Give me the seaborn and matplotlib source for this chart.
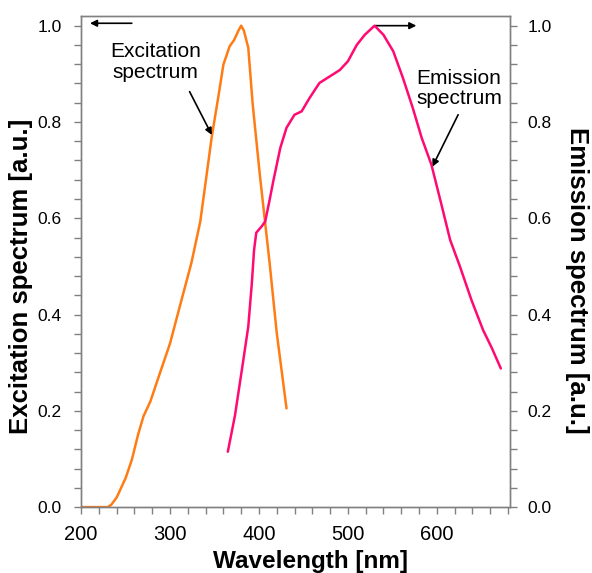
import matplotlib
matplotlib.use("Agg")
import matplotlib.pyplot as plt
import seaborn as sns
import pandas as pd
from matplotlib.ticker import MultipleLocator, FormatStrFormatter

exc_wl = [200, 210, 220, 230, 234, 240, 245, 250, 257, 264, 270, 278, 286, 300, 310, 324, 334,
          347, 355, 360, 367, 372, 377, 380, 383, 388, 393, 401, 407, 412, 420, 431]
exc_val = [0.0, 0.0, 0.0, 0.0, 0.005, 0.02, 0.04, 0.06, 0.098, 0.15, 0.188, 0.22, 0.264, 0.34, 0.41,
           0.507, 0.593, 0.77, 0.86, 0.919, 0.957, 0.97, 0.99, 1.0, 0.99, 0.954, 0.836, 0.69, 0.59,
           0.507, 0.362, 0.205]

em_wl = [365, 373, 382, 388, 392, 394.5, 397, 403, 407, 412, 416, 420, 424, 431, 440, 448, 457,
         468, 480, 491, 500, 510, 519, 530, 540, 551, 562, 573, 583, 594, 605, 615, 626, 639, 652,
         662, 672]
em_val = [0.115, 0.19, 0.30, 0.375, 0.465, 0.534, 0.57, 0.583, 0.593, 0.638, 0.676, 0.711, 0.746,
          0.788, 0.815, 0.822, 0.85, 0.881, 0.895, 0.908, 0.926, 0.96, 0.981, 1.0, 0.981, 0.947,
          0.891, 0.829, 0.767, 0.711, 0.63, 0.555, 0.5, 0.43, 0.368, 0.33, 0.288]

x_ticks = [200, 300, 400, 500, 600]
y_ticks = [0.0, 0.2, 0.4, 0.6, 0.8, 1.0]

sns.set_style("ticks")
plt.rcParams['font.family'] = ['Liberation Sans', 'DejaVu Sans']
plt.rcParams['text.color'] = 'black'
plt.rcParams['axes.labelcolor'] = 'black'

exc_df = pd.DataFrame({"wl": exc_wl, "val": exc_val})
em_df = pd.DataFrame({"wl": em_wl, "val": em_val})

fig = plt.figure(figsize=(5.92, 5.73), dpi=100)
ax = fig.add_axes([0.137, 0.115, 0.724, 0.857])
ax2 = ax.twinx()

sns.lineplot(data=exc_df, x="wl", y="val", ax=ax, color="#ff7c14", lw=1.8, estimator=None, sort=False)
sns.lineplot(data=em_df, x="wl", y="val", ax=ax2, color="#ff0a72", lw=1.8, estimator=None, sort=False)

for a in (ax, ax2):
    a.set_xlim(200, 682)
    a.set_ylim(0, 1.02)
    a.set_yticks(y_ticks)
    a.yaxis.set_minor_locator(MultipleLocator(0.04))
    a.yaxis.set_major_formatter(FormatStrFormatter('%.1f'))
    a.tick_params(which='both', direction='out', color='#808080', length=5, width=1,
                  labelcolor='black')
    a.tick_params(axis='y', labelsize=12.5)
    for s in a.spines.values():
        s.set_color('#808080')
        s.set_linewidth(1)
        s.set_visible(True)

ax.set_xticks(x_ticks)
ax.xaxis.set_minor_locator(MultipleLocator(20))
ax.tick_params(axis='x', labelsize=14.5, pad=8)
ax.tick_params(axis='y', pad=9)
ax2.tick_params(axis='y', pad=8)

ax.set_xlabel("Wavelength [nm]", fontsize=17.5, fontweight='bold', ha='center', va='center')
ax.xaxis.set_label_coords(0.536, -0.11)
ax.set_ylabel("Excitation spectrum [a.u.]", fontsize=18.5, fontweight='bold', ha='center', va='center')
ax.yaxis.set_label_coords(-0.14, 0.47)
ax2.set_ylabel("Emission spectrum [a.u.]", fontsize=18.5, fontweight='bold', rotation=270,
               ha='center', va='center')
ax2.yaxis.set_label_coords(1.158, 0.462)

arrow = dict(arrowstyle='-|>', color='black', lw=1.2, mutation_scale=10, shrinkA=0, shrinkB=0)
ax.annotate("", xy=(210, 1.005), xytext=(257, 1.005), arrowprops=arrow)
ax.annotate("", xy=(577, 1.0), xytext=(531, 1.0), arrowprops=arrow)
ax.annotate("", xy=(347, 0.773), xytext=(322, 0.863), arrowprops=arrow)
ax.annotate("", xy=(595, 0.707), xytext=(624, 0.815), arrowprops=arrow)
ax.text(284, 0.925, "Excitation\nspectrum", fontsize=15, ha='center', va='center',
        linespacing=1.1, color='black')
ax.text(625, 0.869, "Emission\nspectrum", fontsize=15, ha='center', va='center',
        linespacing=1.1, color='black')

fig.savefig("out.png", dpi=100)
